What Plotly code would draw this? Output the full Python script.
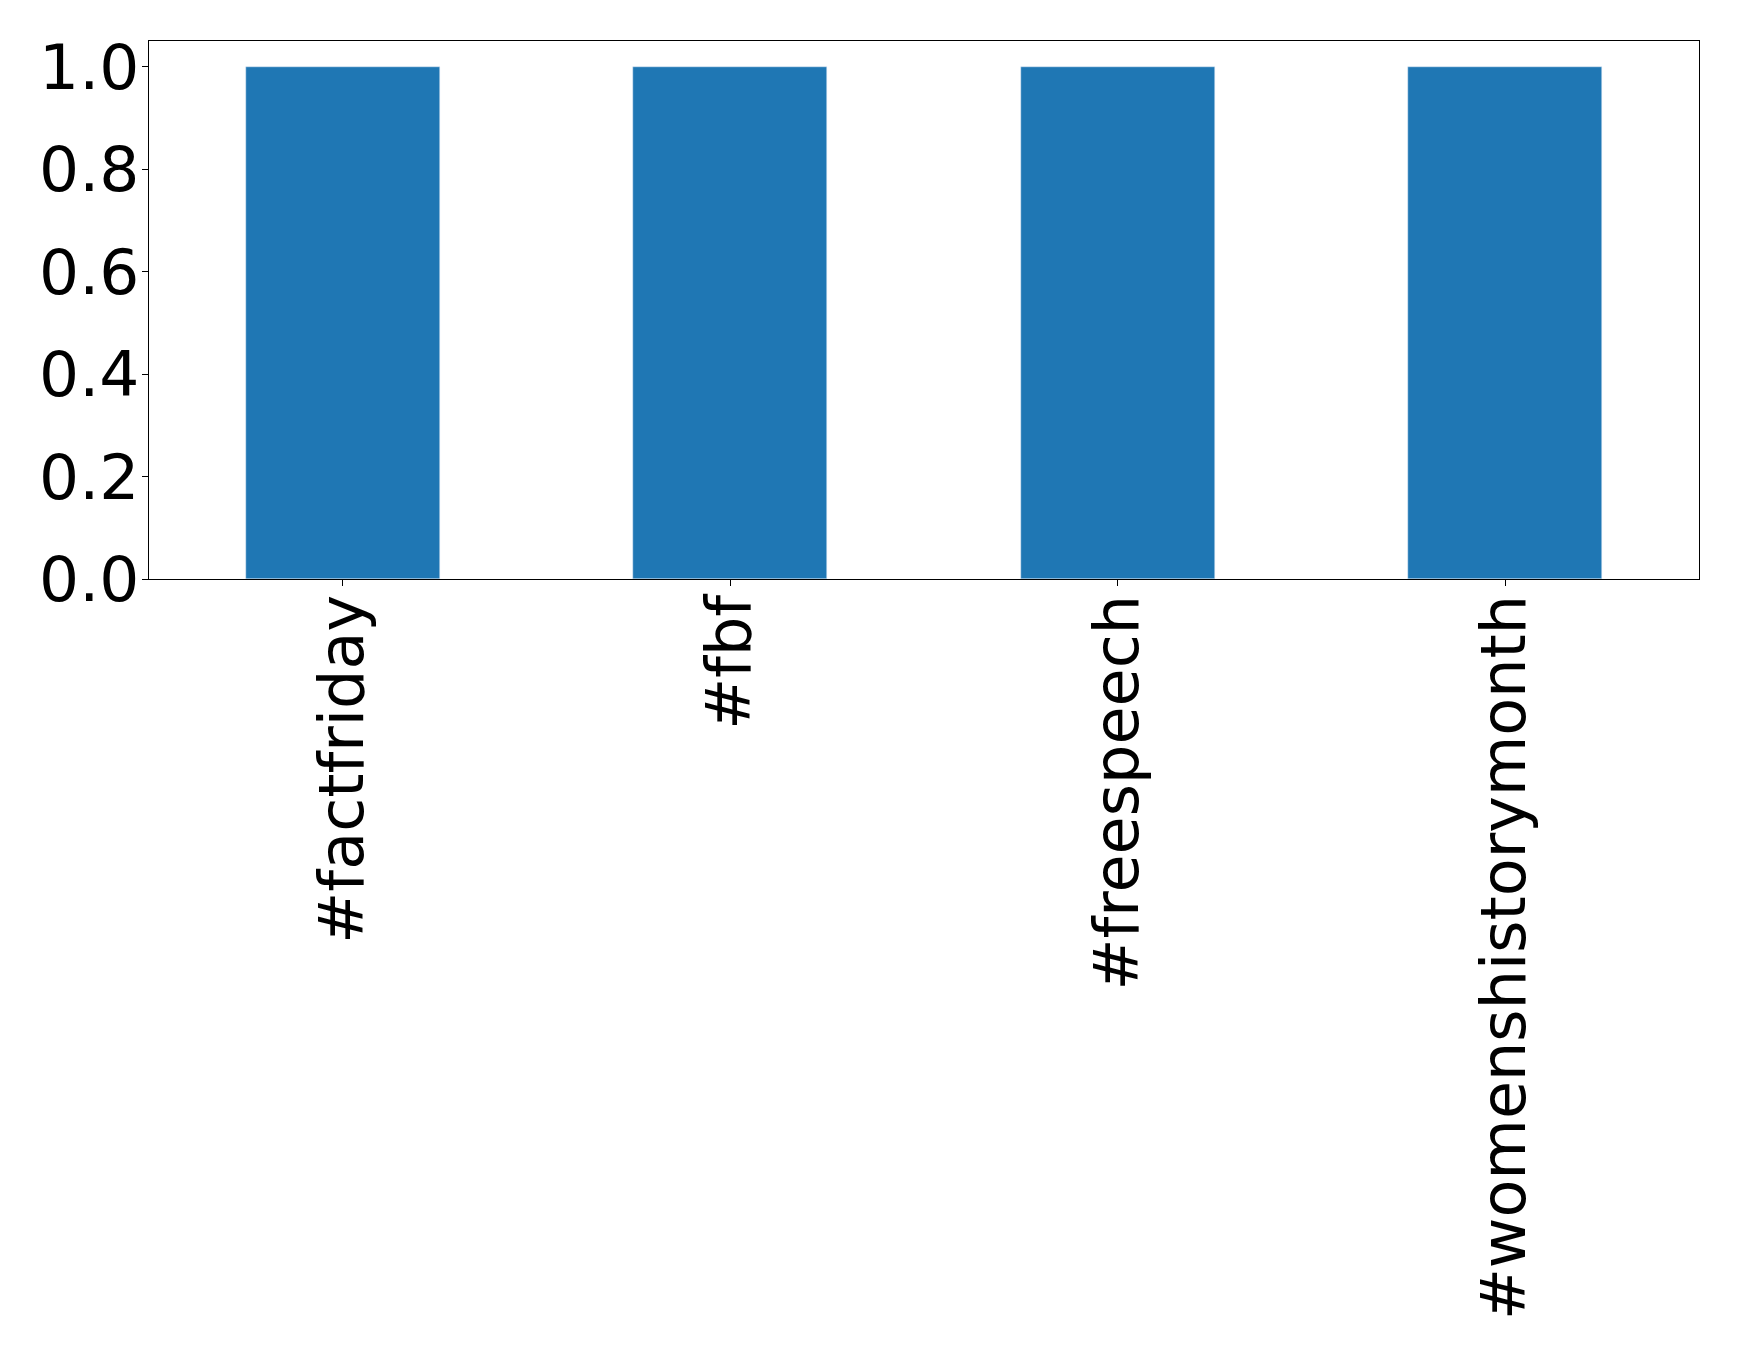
import plotly.graph_objects as go

categories = ["#factfriday", "#fbf", "#freespeech", "#womenshistorymonth"]
values = [1, 1, 1, 1]
y_ticks = [0.0, 0.2, 0.4, 0.6, 0.8, 1.0]
y_tick_labels = ["0.0", "0.2", "0.4", "0.6", "0.8", "1.0"]

fig = go.Figure(go.Bar(x=categories, y=values, marker_color="#1f77b4", width=0.5))

fig.update_layout(
    width=1739, height=1359,
    margin=dict(l=141, r=48, t=33, b=788, autoexpand=False),
    paper_bgcolor="white", plot_bgcolor="white",
    font=dict(family="DejaVu Sans", size=63, color="black"),
    showlegend=False,
    bargap=0,
)
fig.update_xaxes(
    range=[-0.5, 3.5], tickangle=-90,
    showline=True, linecolor="black", linewidth=1.2, mirror=True,
    ticks="outside", ticklen=6, tickwidth=1.2, tickcolor="black",
    showgrid=False, tickfont=dict(size=62), ticklabelstandoff=-16,
)
fig.update_yaxes(
    range=[0, 1.05], tickvals=y_ticks, ticktext=y_tick_labels,
    showline=True, linecolor="black", linewidth=1.2, mirror=True,
    ticks="outside", ticklen=6, tickwidth=1.2, tickcolor="black",
    showgrid=False, zeroline=False, tickfont=dict(size=63), ticklabelstandoff=-10,
)

fig.write_html("out.html")
